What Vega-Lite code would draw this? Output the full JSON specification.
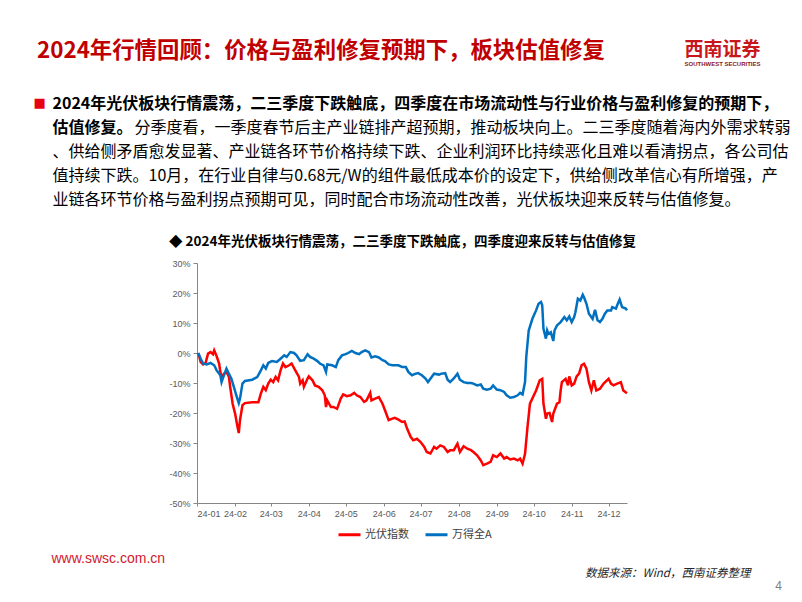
{
  "$schema": "https://vega.github.io/schema/vega-lite/v6.json",
  "width": 430,
  "height": 240,
  "autosize": {"type": "none"},
  "padding": {"left": 197, "top": 263, "right": 175, "bottom": 99},
  "background": "white",
  "config": {"view": {"stroke": null}},
  "title": {
    "text": "2024年行情回顾：价格与盈利修复预期下，板块估值修复",
    "anchor": "start",
    "frame": "group",
    "dx": -160,
    "dy": 22,
    "offset": 0,
    "font": "Noto Sans CJK SC",
    "fontSize": 22.4,
    "fontWeight": "bold",
    "color": "#C00000"
  },
  "data": {
    "values": [
      {"date": "2024-01-02", "series": "光伏指数", "value": 0},
      {"date": "2024-01-04", "series": "光伏指数", "value": -3.0},
      {"date": "2024-01-06", "series": "光伏指数", "value": -3.8},
      {"date": "2024-01-08", "series": "光伏指数", "value": -3.3},
      {"date": "2024-01-10", "series": "光伏指数", "value": -0.2},
      {"date": "2024-01-12", "series": "光伏指数", "value": 0.3},
      {"date": "2024-01-14", "series": "光伏指数", "value": -0.4},
      {"date": "2024-01-15", "series": "光伏指数", "value": 0.9},
      {"date": "2024-01-17", "series": "光伏指数", "value": -1.1},
      {"date": "2024-01-19", "series": "光伏指数", "value": -3.5},
      {"date": "2024-01-20", "series": "光伏指数", "value": -6.3},
      {"date": "2024-01-21", "series": "光伏指数", "value": -8.0},
      {"date": "2024-01-23", "series": "光伏指数", "value": -6.9},
      {"date": "2024-01-25", "series": "光伏指数", "value": -6.3},
      {"date": "2024-01-27", "series": "光伏指数", "value": -8.0},
      {"date": "2024-01-28", "series": "光伏指数", "value": -11.3},
      {"date": "2024-01-30", "series": "光伏指数", "value": -16.9},
      {"date": "2024-02-01", "series": "光伏指数", "value": -20.2},
      {"date": "2024-02-03", "series": "光伏指数", "value": -24.7},
      {"date": "2024-02-04", "series": "光伏指数", "value": -26.7},
      {"date": "2024-02-05", "series": "光伏指数", "value": -22.4},
      {"date": "2024-02-07", "series": "光伏指数", "value": -17.4},
      {"date": "2024-02-09", "series": "光伏指数", "value": -16.7},
      {"date": "2024-02-15", "series": "光伏指数", "value": -16.4},
      {"date": "2024-02-20", "series": "光伏指数", "value": -16.4},
      {"date": "2024-02-22", "series": "光伏指数", "value": -13.5},
      {"date": "2024-02-24", "series": "光伏指数", "value": -11.3},
      {"date": "2024-02-26", "series": "光伏指数", "value": -12.4},
      {"date": "2024-02-28", "series": "光伏指数", "value": -10.2},
      {"date": "2024-03-01", "series": "光伏指数", "value": -8.9},
      {"date": "2024-03-03", "series": "光伏指数", "value": -9.7},
      {"date": "2024-03-05", "series": "光伏指数", "value": -8.0},
      {"date": "2024-03-07", "series": "光伏指数", "value": -9.1},
      {"date": "2024-03-09", "series": "光伏指数", "value": -5.8},
      {"date": "2024-03-11", "series": "光伏指数", "value": -3.5},
      {"date": "2024-03-13", "series": "光伏指数", "value": -4.7},
      {"date": "2024-03-16", "series": "光伏指数", "value": -4.1},
      {"date": "2024-03-18", "series": "光伏指数", "value": -3.5},
      {"date": "2024-03-21", "series": "光伏指数", "value": -5.8},
      {"date": "2024-03-24", "series": "光伏指数", "value": -8.0},
      {"date": "2024-03-25", "series": "光伏指数", "value": -10.2},
      {"date": "2024-03-27", "series": "光伏指数", "value": -9.1},
      {"date": "2024-03-28", "series": "光伏指数", "value": -11.3},
      {"date": "2024-03-31", "series": "光伏指数", "value": -8.5},
      {"date": "2024-04-01", "series": "光伏指数", "value": -7.8},
      {"date": "2024-04-04", "series": "光伏指数", "value": -9.1},
      {"date": "2024-04-06", "series": "光伏指数", "value": -10.8},
      {"date": "2024-04-09", "series": "光伏指数", "value": -11.3},
      {"date": "2024-04-12", "series": "光伏指数", "value": -12.4},
      {"date": "2024-04-14", "series": "光伏指数", "value": -14.1},
      {"date": "2024-04-15", "series": "光伏指数", "value": -18.0},
      {"date": "2024-04-16", "series": "光伏指数", "value": -15.8},
      {"date": "2024-04-19", "series": "光伏指数", "value": -18.0},
      {"date": "2024-04-21", "series": "光伏指数", "value": -18.0},
      {"date": "2024-04-24", "series": "光伏指数", "value": -18.6},
      {"date": "2024-04-27", "series": "光伏指数", "value": -15.2},
      {"date": "2024-04-29", "series": "光伏指数", "value": -13.8},
      {"date": "2024-05-02", "series": "光伏指数", "value": -14.4},
      {"date": "2024-05-05", "series": "光伏指数", "value": -14.1},
      {"date": "2024-05-08", "series": "光伏指数", "value": -13.3},
      {"date": "2024-05-10", "series": "光伏指数", "value": -14.1},
      {"date": "2024-05-13", "series": "光伏指数", "value": -14.7},
      {"date": "2024-05-16", "series": "光伏指数", "value": -16.3},
      {"date": "2024-05-18", "series": "光伏指数", "value": -15.8},
      {"date": "2024-05-21", "series": "光伏指数", "value": -13.3},
      {"date": "2024-05-22", "series": "光伏指数", "value": -15.8},
      {"date": "2024-05-25", "series": "光伏指数", "value": -15.2},
      {"date": "2024-05-28", "series": "光伏指数", "value": -14.7},
      {"date": "2024-05-31", "series": "光伏指数", "value": -16.9},
      {"date": "2024-06-02", "series": "光伏指数", "value": -19.1},
      {"date": "2024-06-05", "series": "光伏指数", "value": -22.4},
      {"date": "2024-06-08", "series": "光伏指数", "value": -21.9},
      {"date": "2024-06-10", "series": "光伏指数", "value": -21.6},
      {"date": "2024-06-13", "series": "光伏指数", "value": -22.2},
      {"date": "2024-06-16", "series": "光伏指数", "value": -23.0},
      {"date": "2024-06-18", "series": "光伏指数", "value": -22.8},
      {"date": "2024-06-20", "series": "光伏指数", "value": -25.2},
      {"date": "2024-06-23", "series": "光伏指数", "value": -28.0},
      {"date": "2024-06-25", "series": "光伏指数", "value": -29.1},
      {"date": "2024-06-28", "series": "光伏指数", "value": -28.6},
      {"date": "2024-07-01", "series": "光伏指数", "value": -29.7},
      {"date": "2024-07-04", "series": "光伏指数", "value": -31.3},
      {"date": "2024-07-06", "series": "光伏指数", "value": -33.0},
      {"date": "2024-07-09", "series": "光伏指数", "value": -33.5},
      {"date": "2024-07-12", "series": "光伏指数", "value": -31.3},
      {"date": "2024-07-14", "series": "光伏指数", "value": -31.9},
      {"date": "2024-07-17", "series": "光伏指数", "value": -30.8},
      {"date": "2024-07-20", "series": "光伏指数", "value": -31.3},
      {"date": "2024-07-23", "series": "光伏指数", "value": -33.0},
      {"date": "2024-07-25", "series": "光伏指数", "value": -32.4},
      {"date": "2024-07-28", "series": "光伏指数", "value": -32.4},
      {"date": "2024-07-31", "series": "光伏指数", "value": -30.2},
      {"date": "2024-08-02", "series": "光伏指数", "value": -33.0},
      {"date": "2024-08-05", "series": "光伏指数", "value": -31.1},
      {"date": "2024-08-08", "series": "光伏指数", "value": -31.9},
      {"date": "2024-08-11", "series": "光伏指数", "value": -32.4},
      {"date": "2024-08-13", "series": "光伏指数", "value": -33.0},
      {"date": "2024-08-16", "series": "光伏指数", "value": -34.1},
      {"date": "2024-08-19", "series": "光伏指数", "value": -35.8},
      {"date": "2024-08-21", "series": "光伏指数", "value": -37.4},
      {"date": "2024-08-24", "series": "光伏指数", "value": -36.9},
      {"date": "2024-08-27", "series": "光伏指数", "value": -36.3},
      {"date": "2024-08-29", "series": "光伏指数", "value": -34.1},
      {"date": "2024-09-01", "series": "光伏指数", "value": -34.7},
      {"date": "2024-09-04", "series": "光伏指数", "value": -33.5},
      {"date": "2024-09-07", "series": "光伏指数", "value": -35.2},
      {"date": "2024-09-09", "series": "光伏指数", "value": -34.7},
      {"date": "2024-09-12", "series": "光伏指数", "value": -35.5},
      {"date": "2024-09-15", "series": "光伏指数", "value": -35.2},
      {"date": "2024-09-18", "series": "光伏指数", "value": -35.8},
      {"date": "2024-09-20", "series": "光伏指数", "value": -35.2},
      {"date": "2024-09-22", "series": "光伏指数", "value": -36.9},
      {"date": "2024-09-24", "series": "光伏指数", "value": -33.6},
      {"date": "2024-09-26", "series": "光伏指数", "value": -24.7},
      {"date": "2024-09-28", "series": "光伏指数", "value": -16.9},
      {"date": "2024-10-03", "series": "光伏指数", "value": -12.5},
      {"date": "2024-10-06", "series": "光伏指数", "value": -9.1},
      {"date": "2024-10-08", "series": "光伏指数", "value": -8.6},
      {"date": "2024-10-09", "series": "光伏指数", "value": -16.9},
      {"date": "2024-10-11", "series": "光伏指数", "value": -21.9},
      {"date": "2024-10-12", "series": "光伏指数", "value": -20.2},
      {"date": "2024-10-14", "series": "光伏指数", "value": -20.0},
      {"date": "2024-10-16", "series": "光伏指数", "value": -23.0},
      {"date": "2024-10-17", "series": "光伏指数", "value": -20.2},
      {"date": "2024-10-20", "series": "光伏指数", "value": -16.9},
      {"date": "2024-10-22", "series": "光伏指数", "value": -16.4},
      {"date": "2024-10-23", "series": "光伏指数", "value": -12.5},
      {"date": "2024-10-24", "series": "光伏指数", "value": -9.7},
      {"date": "2024-10-27", "series": "光伏指数", "value": -8.6},
      {"date": "2024-10-29", "series": "光伏指数", "value": -10.8},
      {"date": "2024-10-30", "series": "光伏指数", "value": -7.8},
      {"date": "2024-11-01", "series": "光伏指数", "value": -10.8},
      {"date": "2024-11-03", "series": "光伏指数", "value": -10.2},
      {"date": "2024-11-05", "series": "光伏指数", "value": -7.8},
      {"date": "2024-11-07", "series": "光伏指数", "value": -6.9},
      {"date": "2024-11-09", "series": "光伏指数", "value": -4.1},
      {"date": "2024-11-11", "series": "光伏指数", "value": -3.6},
      {"date": "2024-11-13", "series": "光伏指数", "value": -5.2},
      {"date": "2024-11-15", "series": "光伏指数", "value": -9.7},
      {"date": "2024-11-17", "series": "光伏指数", "value": -12.5},
      {"date": "2024-11-19", "series": "光伏指数", "value": -9.1},
      {"date": "2024-11-21", "series": "光伏指数", "value": -12.5},
      {"date": "2024-11-24", "series": "光伏指数", "value": -11.9},
      {"date": "2024-11-27", "series": "光伏指数", "value": -10.2},
      {"date": "2024-12-01", "series": "光伏指数", "value": -8.6},
      {"date": "2024-12-03", "series": "光伏指数", "value": -10.2},
      {"date": "2024-12-05", "series": "光伏指数", "value": -10.8},
      {"date": "2024-12-08", "series": "光伏指数", "value": -10.2},
      {"date": "2024-12-11", "series": "光伏指数", "value": -9.7},
      {"date": "2024-12-13", "series": "光伏指数", "value": -12.5},
      {"date": "2024-12-16", "series": "光伏指数", "value": -13.4},
      {"date": "2024-01-02", "series": "万得全A", "value": 0},
      {"date": "2024-01-04", "series": "万得全A", "value": -1.9},
      {"date": "2024-01-06", "series": "万得全A", "value": -3.5},
      {"date": "2024-01-09", "series": "万得全A", "value": -3.8},
      {"date": "2024-01-12", "series": "万得全A", "value": -3.3},
      {"date": "2024-01-15", "series": "万得全A", "value": -4.1},
      {"date": "2024-01-17", "series": "万得全A", "value": -5.8},
      {"date": "2024-01-20", "series": "万得全A", "value": -7.4},
      {"date": "2024-01-21", "series": "万得全A", "value": -9.7},
      {"date": "2024-01-23", "series": "万得全A", "value": -7.4},
      {"date": "2024-01-25", "series": "万得全A", "value": -5.2},
      {"date": "2024-01-27", "series": "万得全A", "value": -6.9},
      {"date": "2024-01-29", "series": "万得全A", "value": -8.6},
      {"date": "2024-01-31", "series": "万得全A", "value": -11.3},
      {"date": "2024-02-02", "series": "万得全A", "value": -14.1},
      {"date": "2024-02-04", "series": "万得全A", "value": -16.7},
      {"date": "2024-02-05", "series": "万得全A", "value": -15.2},
      {"date": "2024-02-07", "series": "万得全A", "value": -10.2},
      {"date": "2024-02-09", "series": "万得全A", "value": -9.3},
      {"date": "2024-02-15", "series": "万得全A", "value": -8.9},
      {"date": "2024-02-19", "series": "万得全A", "value": -8.0},
      {"date": "2024-02-22", "series": "万得全A", "value": -5.8},
      {"date": "2024-02-24", "series": "万得全A", "value": -4.1},
      {"date": "2024-02-26", "series": "万得全A", "value": -5.2},
      {"date": "2024-02-28", "series": "万得全A", "value": -3.3},
      {"date": "2024-03-02", "series": "万得全A", "value": -2.7},
      {"date": "2024-03-06", "series": "万得全A", "value": -3.0},
      {"date": "2024-03-09", "series": "万得全A", "value": -1.9},
      {"date": "2024-03-12", "series": "万得全A", "value": -0.8},
      {"date": "2024-03-14", "series": "万得全A", "value": -1.3},
      {"date": "2024-03-17", "series": "万得全A", "value": 0.3},
      {"date": "2024-03-20", "series": "万得全A", "value": 0.0},
      {"date": "2024-03-22", "series": "万得全A", "value": -0.8},
      {"date": "2024-03-25", "series": "万得全A", "value": -2.6},
      {"date": "2024-03-28", "series": "万得全A", "value": -2.4},
      {"date": "2024-03-31", "series": "万得全A", "value": -0.4},
      {"date": "2024-04-02", "series": "万得全A", "value": -1.3},
      {"date": "2024-04-05", "series": "万得全A", "value": -1.9},
      {"date": "2024-04-08", "series": "万得全A", "value": -2.7},
      {"date": "2024-04-10", "series": "万得全A", "value": -3.5},
      {"date": "2024-04-13", "series": "万得全A", "value": -4.1},
      {"date": "2024-04-15", "series": "万得全A", "value": -6.3},
      {"date": "2024-04-16", "series": "万得全A", "value": -3.8},
      {"date": "2024-04-20", "series": "万得全A", "value": -4.1},
      {"date": "2024-04-23", "series": "万得全A", "value": -4.7},
      {"date": "2024-04-25", "series": "万得全A", "value": -2.4},
      {"date": "2024-04-28", "series": "万得全A", "value": -0.8},
      {"date": "2024-05-01", "series": "万得全A", "value": -0.4},
      {"date": "2024-05-03", "series": "万得全A", "value": 0.0},
      {"date": "2024-05-06", "series": "万得全A", "value": 0.7},
      {"date": "2024-05-09", "series": "万得全A", "value": 0.0},
      {"date": "2024-05-12", "series": "万得全A", "value": -0.4},
      {"date": "2024-05-14", "series": "万得全A", "value": 0.3},
      {"date": "2024-05-17", "series": "万得全A", "value": 0.9},
      {"date": "2024-05-20", "series": "万得全A", "value": 0.3},
      {"date": "2024-05-22", "series": "万得全A", "value": -1.5},
      {"date": "2024-05-25", "series": "万得全A", "value": -1.1},
      {"date": "2024-05-28", "series": "万得全A", "value": -1.5},
      {"date": "2024-05-31", "series": "万得全A", "value": -2.4},
      {"date": "2024-06-02", "series": "万得全A", "value": -2.7},
      {"date": "2024-06-05", "series": "万得全A", "value": -3.8},
      {"date": "2024-06-08", "series": "万得全A", "value": -4.1},
      {"date": "2024-06-10", "series": "万得全A", "value": -4.1},
      {"date": "2024-06-13", "series": "万得全A", "value": -4.1},
      {"date": "2024-06-16", "series": "万得全A", "value": -4.7},
      {"date": "2024-06-19", "series": "万得全A", "value": -4.7},
      {"date": "2024-06-21", "series": "万得全A", "value": -6.3},
      {"date": "2024-06-24", "series": "万得全A", "value": -7.4},
      {"date": "2024-06-27", "series": "万得全A", "value": -6.9},
      {"date": "2024-06-29", "series": "万得全A", "value": -6.7},
      {"date": "2024-07-02", "series": "万得全A", "value": -7.4},
      {"date": "2024-07-05", "series": "万得全A", "value": -8.5},
      {"date": "2024-07-07", "series": "万得全A", "value": -9.7},
      {"date": "2024-07-10", "series": "万得全A", "value": -8.0},
      {"date": "2024-07-12", "series": "万得全A", "value": -6.9},
      {"date": "2024-07-16", "series": "万得全A", "value": -7.2},
      {"date": "2024-07-18", "series": "万得全A", "value": -6.9},
      {"date": "2024-07-21", "series": "万得全A", "value": -6.7},
      {"date": "2024-07-23", "series": "万得全A", "value": -8.9},
      {"date": "2024-07-25", "series": "万得全A", "value": -9.7},
      {"date": "2024-07-28", "series": "万得全A", "value": -8.5},
      {"date": "2024-07-31", "series": "万得全A", "value": -6.9},
      {"date": "2024-08-02", "series": "万得全A", "value": -8.9},
      {"date": "2024-08-05", "series": "万得全A", "value": -9.7},
      {"date": "2024-08-08", "series": "万得全A", "value": -10.0},
      {"date": "2024-08-11", "series": "万得全A", "value": -10.0},
      {"date": "2024-08-13", "series": "万得全A", "value": -10.2},
      {"date": "2024-08-16", "series": "万得全A", "value": -10.8},
      {"date": "2024-08-19", "series": "万得全A", "value": -10.5},
      {"date": "2024-08-21", "series": "万得全A", "value": -11.9},
      {"date": "2024-08-24", "series": "万得全A", "value": -12.2},
      {"date": "2024-08-27", "series": "万得全A", "value": -11.9},
      {"date": "2024-08-29", "series": "万得全A", "value": -10.8},
      {"date": "2024-09-01", "series": "万得全A", "value": -12.2},
      {"date": "2024-09-04", "series": "万得全A", "value": -12.4},
      {"date": "2024-09-07", "series": "万得全A", "value": -13.0},
      {"date": "2024-09-09", "series": "万得全A", "value": -14.1},
      {"date": "2024-09-12", "series": "万得全A", "value": -14.9},
      {"date": "2024-09-15", "series": "万得全A", "value": -14.7},
      {"date": "2024-09-18", "series": "万得全A", "value": -14.1},
      {"date": "2024-09-20", "series": "万得全A", "value": -13.3},
      {"date": "2024-09-22", "series": "万得全A", "value": -13.8},
      {"date": "2024-09-24", "series": "万得全A", "value": -9.7},
      {"date": "2024-09-25", "series": "万得全A", "value": -1.4},
      {"date": "2024-09-27", "series": "万得全A", "value": 7.5},
      {"date": "2024-09-30", "series": "万得全A", "value": 11.4},
      {"date": "2024-10-03", "series": "万得全A", "value": 14.2},
      {"date": "2024-10-05", "series": "万得全A", "value": 16.4},
      {"date": "2024-10-07", "series": "万得全A", "value": 17.0},
      {"date": "2024-10-08", "series": "万得全A", "value": 15.9},
      {"date": "2024-10-09", "series": "万得全A", "value": 8.1},
      {"date": "2024-10-11", "series": "万得全A", "value": 4.8},
      {"date": "2024-10-12", "series": "万得全A", "value": 7.5},
      {"date": "2024-10-13", "series": "万得全A", "value": 6.4},
      {"date": "2024-10-15", "series": "万得全A", "value": 6.9},
      {"date": "2024-10-17", "series": "万得全A", "value": 4.0},
      {"date": "2024-10-18", "series": "万得全A", "value": 7.5},
      {"date": "2024-10-20", "series": "万得全A", "value": 9.2},
      {"date": "2024-10-23", "series": "万得全A", "value": 10.3},
      {"date": "2024-10-26", "series": "万得全A", "value": 12.0},
      {"date": "2024-10-28", "series": "万得全A", "value": 10.9},
      {"date": "2024-10-30", "series": "万得全A", "value": 12.2},
      {"date": "2024-11-01", "series": "万得全A", "value": 10.3},
      {"date": "2024-11-03", "series": "万得全A", "value": 12.0},
      {"date": "2024-11-04", "series": "万得全A", "value": 13.6},
      {"date": "2024-11-06", "series": "万得全A", "value": 18.1},
      {"date": "2024-11-08", "series": "万得全A", "value": 17.5},
      {"date": "2024-11-10", "series": "万得全A", "value": 19.4},
      {"date": "2024-11-11", "series": "万得全A", "value": 18.6},
      {"date": "2024-11-13", "series": "万得全A", "value": 16.4},
      {"date": "2024-11-15", "series": "万得全A", "value": 13.1},
      {"date": "2024-11-18", "series": "万得全A", "value": 11.4},
      {"date": "2024-11-20", "series": "万得全A", "value": 14.4},
      {"date": "2024-11-22", "series": "万得全A", "value": 10.9},
      {"date": "2024-11-24", "series": "万得全A", "value": 10.3},
      {"date": "2024-11-26", "series": "万得全A", "value": 11.4},
      {"date": "2024-11-28", "series": "万得全A", "value": 13.1},
      {"date": "2024-11-30", "series": "万得全A", "value": 14.2},
      {"date": "2024-12-03", "series": "万得全A", "value": 14.2},
      {"date": "2024-12-04", "series": "万得全A", "value": 15.3},
      {"date": "2024-12-07", "series": "万得全A", "value": 14.8},
      {"date": "2024-12-08", "series": "万得全A", "value": 15.9},
      {"date": "2024-12-10", "series": "万得全A", "value": 17.8},
      {"date": "2024-12-12", "series": "万得全A", "value": 15.3},
      {"date": "2024-12-15", "series": "万得全A", "value": 14.8},
      {"date": "2024-12-16", "series": "万得全A", "value": 14.2}
    ]
  },
  "resolve": {"axis": {"x": "independent", "y": "independent"}},
  "layer": [
    {
      "mark": {"type": "line", "strokeWidth": 2.5},
      "encoding": {
        "x": {
          "field": "date", "type": "temporal",
          "scale": {"type": "utc", "nice": false, "domain": [{"year": 2024, "month": 1, "date": 1, "utc": true}, {"year": 2024, "month": 12, "date": 16, "utc": true}]},
          "axis": {
            "orient": "bottom", "format": "%y-%m", "tickCount": {"interval": "month", "step": 1},
            "grid": false, "domainColor": "#868686", "tickColor": "#868686", "tickSize": 3,
            "labelFont": "Liberation Sans", "labelFontSize": 9, "labelColor": "#595959", "labelPadding": 3,
            "title": "数据来源：Wind，西南证券整理",
            "titleX": 553, "titleY": 70, "titleAlign": "right", "titleBaseline": "middle", "titleAngle": 0,
            "titleFont": "Noto Sans CJK SC", "titleFontSize": 11.5, "titleFontStyle": "italic", "titleFontWeight": "normal", "titleColor": "#262626", "titleLimit": 1000
          }
        },
        "y": {
          "field": "value", "type": "quantitative",
          "scale": {"domain": [-50, 30], "nice": false},
          "axis": {
            "orient": "left", "values": [-50, -40, -30, -20, -10, 0, 10, 20, 30], "labelExpr": "datum.value + '%'",
            "grid": false, "domainColor": "#868686", "tickColor": "#868686", "tickSize": 4,
            "labelFont": "Liberation Sans", "labelFontSize": 9, "labelColor": "#595959", "labelPadding": 3,
            "title": "www.swsc.com.cn",
            "titleX": -146, "titleY": 295, "titleAlign": "left", "titleBaseline": "middle", "titleAngle": 0,
            "titleFont": "Liberation Sans", "titleFontSize": 14, "titleFontWeight": "normal", "titleColor": "#D0202E", "titleLimit": 1000
          }
        },
        "color": {
          "field": "series", "type": "nominal",
          "scale": {"domain": ["光伏指数", "万得全A"], "range": ["#FF0000", "#0070C0"]},
          "legend": {
            "orient": "none", "legendX": 140, "legendY": 259, "direction": "horizontal", "title": null,
            "symbolType": "stroke", "symbolStrokeWidth": 3, "symbolSize": 484,
            "labelFont": "Noto Sans CJK SC", "labelFontSize": 11, "labelColor": "#404040", "labelOffset": 3, "columnPadding": 10
          }
        }
      }
    },
    {
      "mark": {"type": "line", "strokeOpacity": 0},
      "encoding": {
        "x": {
          "field": "date", "type": "temporal",
          "scale": {"type": "utc", "nice": false, "domain": [{"year": 2024, "month": 1, "date": 1, "utc": true}, {"year": 2024, "month": 12, "date": 16, "utc": true}]},
          "axis": {
            "orient": "top", "domain": false, "ticks": false, "labels": false, "grid": false,
            "title": "◆ 2024年光伏板块行情震荡，二三季度下跌触底，四季度迎来反转与估值修复",
            "titleX": 205, "titleY": -22, "titleAlign": "center", "titleBaseline": "middle", "titleAngle": 0,
            "titleFont": "Noto Sans CJK SC", "titleFontSize": 13.5, "titleFontWeight": "bold", "titleColor": "#000000", "titleLimit": 1000
          }
        },
        "y": {
          "field": "value", "type": "quantitative",
          "scale": {"domain": [-50, 30], "nice": false},
          "axis": {
            "orient": "right", "domain": false, "ticks": false, "labels": false, "grid": false,
            "title": ["、供给侧矛盾愈发显著、产业链各环节价格持续下跌、企业利润环比持续恶化且难以看清拐点，各公司估", "值持续下跌。10月，在行业自律与0.68元/W的组件最低成本价的设定下，供给侧改革信心有所增强，产", "业链各环节价格与盈利拐点预期可见，同时配合市场流动性改善，光伏板块迎来反转与估值修复。"],
            "titleX": -575, "titleY": -119.6, "titleAlign": "left", "titleBaseline": "top", "titleAngle": 0, "titleLineHeight": 24,
            "titleFont": "Noto Sans CJK SC", "titleFontSize": 16, "titleFontWeight": "normal", "titleColor": "#000000", "titleLimit": 1000
          }
        }
      }
    },
    {
      "mark": {"type": "line", "strokeOpacity": 0},
      "encoding": {
        "x": {
          "field": "date", "type": "temporal",
          "scale": {"type": "utc", "nice": false, "domain": [{"year": 2024, "month": 1, "date": 1, "utc": true}, {"year": 2024, "month": 12, "date": 16, "utc": true}]},
          "axis": {
            "orient": "top", "domain": false, "ticks": false, "labels": false, "grid": false,
            "title": "2024年光伏板块行情震荡，二三季度下跌触底，四季度在市场流动性与行业价格与盈利修复的预期下，",
            "titleX": -145, "titleY": -159.7, "titleAlign": "left", "titleBaseline": "middle", "titleAngle": 0,
            "titleFont": "Noto Sans CJK SC", "titleFontSize": 16, "titleFontWeight": "bold", "titleColor": "#000000", "titleLimit": 1000
          }
        },
        "y": {
          "field": "value", "type": "quantitative",
          "scale": {"domain": [-50, 30], "nice": false},
          "axis": {
            "orient": "right", "domain": false, "ticks": false, "labels": false, "grid": false,
            "title": "4",
            "titleX": 151, "titleY": 322, "titleAlign": "center", "titleBaseline": "middle", "titleAngle": 0,
            "titleFont": "Liberation Sans", "titleFontSize": 12, "titleFontWeight": "normal", "titleColor": "#7F7F7F", "titleLimit": 1000
          }
        }
      }
    },
    {
      "mark": {"type": "line", "strokeOpacity": 0},
      "encoding": {
        "x": {
          "field": "date", "type": "temporal",
          "scale": {"type": "utc", "nice": false, "domain": [{"year": 2024, "month": 1, "date": 1, "utc": true}, {"year": 2024, "month": 12, "date": 16, "utc": true}]},
          "axis": {
            "orient": "top", "domain": false, "ticks": false, "labels": false, "grid": false,
            "title": "西南证券",
            "titleX": 525, "titleY": -213.5, "titleAlign": "center", "titleBaseline": "middle", "titleAngle": 0,
            "titleFont": "Noto Sans CJK SC", "titleFontSize": 19, "titleFontWeight": "bold", "titleColor": "#C8161D", "titleLimit": 1000
          }
        },
        "y": {
          "field": "value", "type": "quantitative",
          "scale": {"domain": [-50, 30], "nice": false},
          "axis": {
            "orient": "left", "domain": false, "ticks": false, "labels": false, "grid": false,
            "title": "■",
            "titleX": -164, "titleY": -161, "titleAlign": "left", "titleBaseline": "middle", "titleAngle": 0,
            "titleFont": "DejaVu Sans", "titleFontSize": 13, "titleFontWeight": "normal", "titleColor": "#E60012", "titleLimit": 1000
          }
        }
      }
    },
    {
      "mark": {"type": "line", "strokeOpacity": 0},
      "encoding": {
        "x": {
          "field": "date", "type": "temporal",
          "scale": {"type": "utc", "nice": false, "domain": [{"year": 2024, "month": 1, "date": 1, "utc": true}, {"year": 2024, "month": 12, "date": 16, "utc": true}]},
          "axis": {
            "orient": "top", "domain": false, "ticks": false, "labels": false, "grid": false,
            "title": "SOUTHWEST SECURITIES",
            "titleX": 525, "titleY": -200, "titleAlign": "center", "titleBaseline": "middle", "titleAngle": 0,
            "titleFont": "Liberation Sans", "titleFontSize": 6, "titleFontWeight": "bold", "titleColor": "#8B1A1A", "titleLimit": 1000
          }
        },
        "y": {
          "field": "value", "type": "quantitative",
          "scale": {"domain": [-50, 30], "nice": false},
          "axis": {
            "orient": "left", "domain": false, "ticks": false, "labels": false, "grid": false,
            "title": "估值修复。",
            "titleX": -145, "titleY": -135.7, "titleAlign": "left", "titleBaseline": "middle", "titleAngle": 0,
            "titleFont": "Noto Sans CJK SC", "titleFontSize": 16, "titleFontWeight": "bold", "titleColor": "#000000", "titleLimit": 1000
          }
        }
      }
    },
    {
      "mark": {"type": "line", "strokeOpacity": 0},
      "encoding": {
        "x": {
          "field": "date", "type": "temporal",
          "scale": {"type": "utc", "nice": false, "domain": [{"year": 2024, "month": 1, "date": 1, "utc": true}, {"year": 2024, "month": 12, "date": 16, "utc": true}]},
          "axis": {
            "orient": "top", "domain": false, "ticks": false, "labels": false, "grid": false,
            "title": "分季度看，一季度春节后主产业链排产超预期，推动板块向上。二三季度随着海内外需求转弱",
            "titleX": -63, "titleY": -135.7, "titleAlign": "left", "titleBaseline": "middle", "titleAngle": 0,
            "titleFont": "Noto Sans CJK SC", "titleFontSize": 16, "titleFontWeight": "normal", "titleColor": "#000000", "titleLimit": 1000
          }
        },
        "y": {
          "field": "value", "type": "quantitative",
          "scale": {"domain": [-50, 30], "nice": false},
          "axis": null
        }
      }
    }
  ]
}
